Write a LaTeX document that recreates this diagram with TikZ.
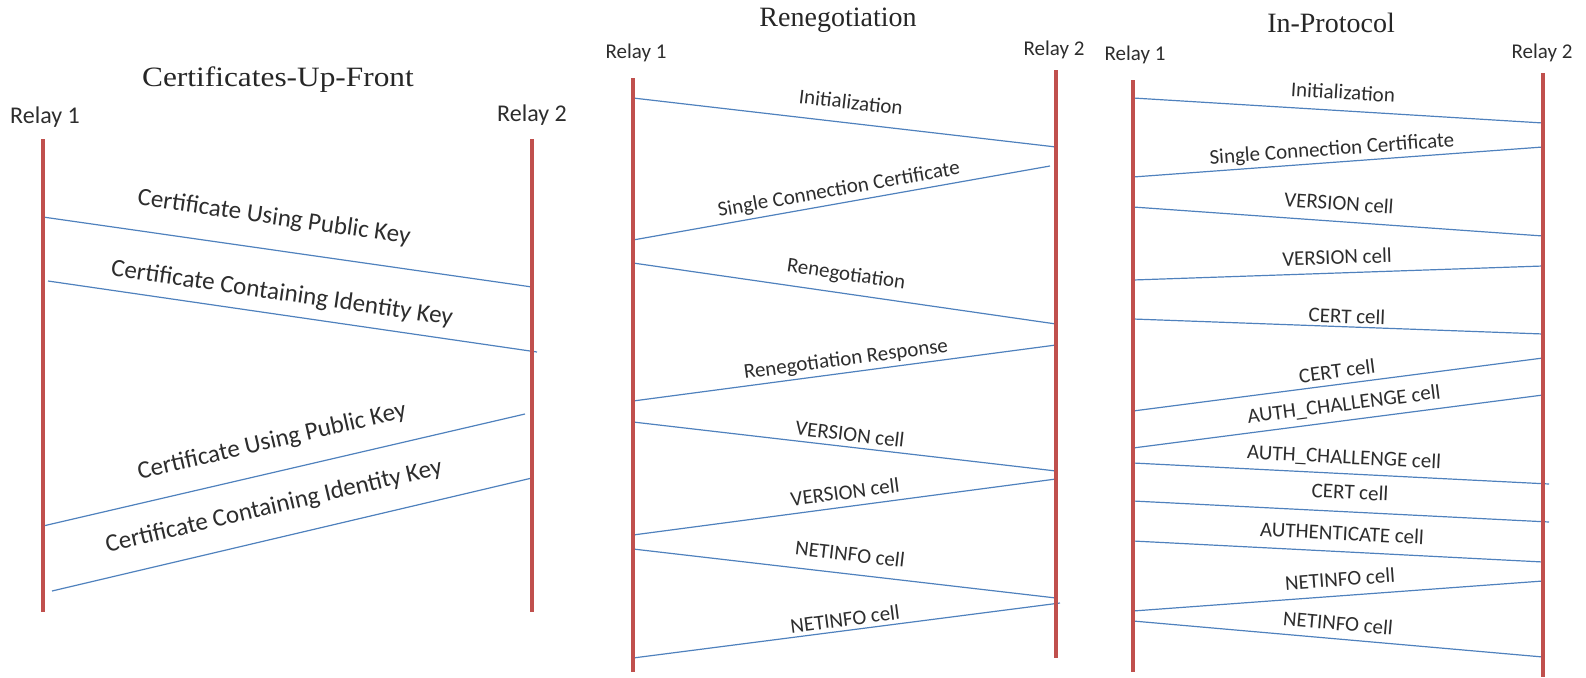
\documentclass[tikz,border=0pt]{standalone}
\usepackage{fontspec}
\setmainfont{Carlito}
\newfontfamily\titlefont{Liberation Serif}
\usetikzlibrary{calc}
\definecolor{lifered}{RGB}{192,80,77}
\definecolor{msgblue}{RGB}{79,129,189}
\definecolor{txtgray}{RGB}{45,45,45}
\tikzset{
 lifeline/.style={draw=lifered, line width=4pt},
 msgline/.style={draw=msgblue, line width=1.2pt},
 titlelbl/.style={font=\titlefont\fontsize{28}{32}\selectfont, text=black!85, inner sep=0pt},
 relay/.style={font=\fontsize{21}{25}\selectfont, text=txtgray, inner sep=0pt},
 relaybig/.style={font=\fontsize{24}{28}\selectfont, text=txtgray, inner sep=0pt},
 lbl/.style={font=\fontsize{21}{25}\selectfont, text=txtgray, inner sep=0pt},
 lblbig/.style={font=\fontsize{25}{29}\selectfont, text=txtgray, inner sep=0pt},
}
\newcommand{\msgarrow}[8]{%
  \coordinate (#1a) at (#2,#3);
  \coordinate (#1b) at (#4,#5);
  \draw[msgline] (#1a) -- (#1b);
  \path let \p1=($(#1b)-(#1a)$), \n1={atan2(\y1,\x1)} in node[#6, rotate=\n1] (#1t) at (#7) {#8};
}
\begin{document}
\begin{tikzpicture}[x=1pt,y=-1pt]
\useasboundingbox (0,0) rectangle (1586,677);

% titles
\node[titlelbl, xscale=1.12] (tA) at (278,80) {Certificates-Up-Front};
\node[titlelbl] (tB) at (838,20) {Renegotiation};
\node[titlelbl] (tC) at (1331,23) {In-Protocol};

% relay labels
\node[relaybig] (rA1) at (45,117) {Relay 1};
\node[relaybig] (rA2) at (532,115) {Relay 2};
\node[relay] (rB1) at (636,53) {Relay 1};
\node[relay] (rB2) at (1054,50) {Relay 2};
\node[relay] (rC1) at (1135,55) {Relay 1};
\node[relay] (rC2) at (1542,53) {Relay 2};

% Certificates-Up-Front
\msgarrow{a1}{43}{217}{532}{287}{lblbig}{274,218}{Certificate Using Public Key}
\msgarrow{a2}{48}{281}{537}{352}{lblbig}{282,294}{Certificate Containing Identity Key}
\msgarrow{a3}{43}{526}{525}{414}{lblbig}{272,442}{Certificate Using Public Key}
\msgarrow{a4}{52}{591}{532}{478}{lblbig}{274,507}{Certificate Containing Identity Key}

% Renegotiation
\msgarrow{b1}{633}{98}{1056}{147}{lbl}{851,102}{Initialization}
\msgarrow{b2}{633}{240}{1050}{166}{lbl}{839,190}{Single Connection Certificate}
\msgarrow{b3}{633}{263}{1056}{324}{lbl}{846,275}{Renegotiation}
\msgarrow{b4}{633}{401}{1056}{345}{lbl}{846,360}{Renegotiation Response}
\msgarrow{b5}{633}{422}{1056}{471}{lbl}{850,434}{VERSION cell}
\msgarrow{b6}{633}{535}{1056}{479}{lbl}{845,492}{VERSION cell}
\msgarrow{b7}{633}{549}{1056}{598}{lbl}{850,554}{NETINFO cell}
\msgarrow{b8}{633}{658}{1060}{603}{lbl}{845,619}{NETINFO cell}

% In-Protocol
\msgarrow{c1}{1133}{98}{1543}{123}{lbl}{1343,92}{Initialization}
\msgarrow{c2}{1133}{177}{1543}{147}{lbl}{1332,150}{Single Connection Certificate}
\msgarrow{c3}{1133}{207}{1543}{236}{lbl}{1339,203}{VERSION cell}
\msgarrow{c4}{1133}{280}{1543}{266}{lbl}{1337,257}{VERSION cell}
\msgarrow{c5}{1133}{319}{1543}{334}{lbl}{1347,316}{CERT cell}
\msgarrow{c6}{1133}{411}{1543}{358}{lbl}{1337,371}{CERT cell}
\msgarrow{c7}{1133}{448}{1543}{395}{lbl}{1344,405}{AUTH\_CHALLENGE cell}
\msgarrow{c8}{1133}{463}{1549}{484}{lbl}{1344,458}{AUTH\_CHALLENGE cell}
\msgarrow{c9}{1133}{501}{1549}{522}{lbl}{1350,492}{CERT cell}
\msgarrow{c10}{1133}{541}{1543}{562}{lbl}{1342,533}{AUTHENTICATE cell}
\msgarrow{c11}{1133}{611}{1543}{581}{lbl}{1340,579}{NETINFO cell}
\msgarrow{c12}{1133}{621}{1543}{657}{lbl}{1338,623}{NETINFO cell}

% lifelines
\coordinate (LA1t) at (43,139);   \coordinate (LA1b) at (43,612);
\coordinate (LA2t) at (532,139);  \coordinate (LA2b) at (532,612);
\coordinate (LB1t) at (633,78);   \coordinate (LB1b) at (633,672);
\coordinate (LB2t) at (1056,70);  \coordinate (LB2b) at (1056,658);
\coordinate (LC1t) at (1133,80);  \coordinate (LC1b) at (1133,672);
\coordinate (LC2t) at (1543,73);  \coordinate (LC2b) at (1543,677);
\draw[lifeline] (LA1t) -- (LA1b);
\draw[lifeline] (LA2t) -- (LA2b);
\draw[lifeline] (LB1t) -- (LB1b);
\draw[lifeline] (LB2t) -- (LB2b);
\draw[lifeline] (LC1t) -- (LC1b);
\draw[lifeline] (LC2t) -- (LC2b);
\end{tikzpicture}
\end{document}
